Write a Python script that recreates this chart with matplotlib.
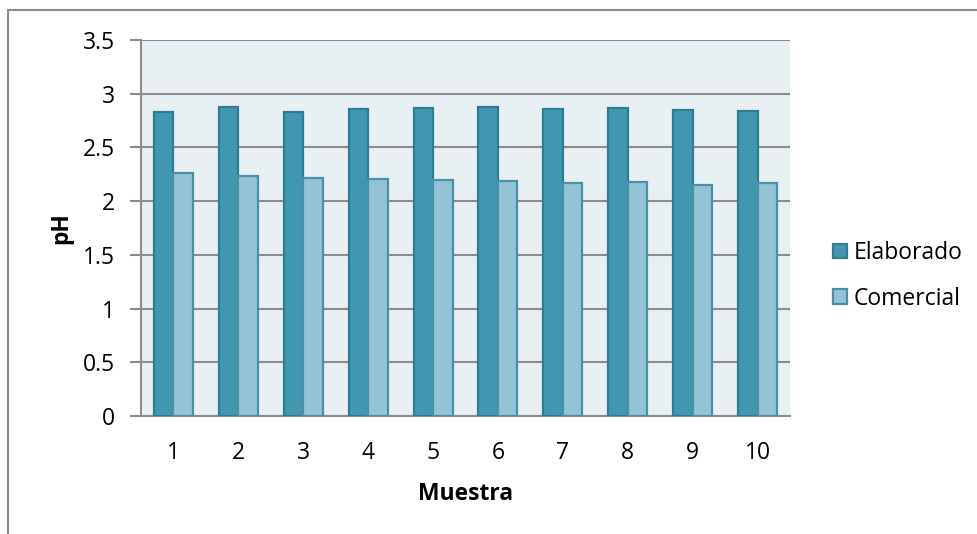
import matplotlib
matplotlib.use("Agg")
import matplotlib.pyplot as plt
import numpy as np
from matplotlib.lines import Line2D

plt.rcParams['font.family'] = ['Open Sans', 'DejaVu Sans']

categories = ['1', '2', '3', '4', '5', '6', '7', '8', '9', '10']
elaborado = [2.83, 2.88, 2.83, 2.86, 2.87, 2.88, 2.86, 2.87, 2.85, 2.84]
comercial = [2.26, 2.23, 2.22, 2.21, 2.20, 2.19, 2.17, 2.18, 2.15, 2.17]
yticks = [0, 0.5, 1, 1.5, 2, 2.5, 3, 3.5]
ytick_labels = ['0', '0.5', '1', '1.5', '2', '2.5', '3', '3.5']

fig = plt.figure(figsize=(9.78, 5.34), dpi=100)
ax = fig.add_axes([141/978, 1-416/534, 649/978, 376/534])
ax.set_facecolor('#E8F0F4')

x = np.arange(len(categories))
w = 0.3
ax.bar(x - w/2, elaborado, w, color='#4197AF', edgecolor='#2F7D94', linewidth=1.6,
       label='Elaborado', zorder=3)
ax.bar(x + w/2, comercial, w, color='#93C3D5', edgecolor='#4A90A6', linewidth=1.6,
       label='Comercial', zorder=3)

ax.set_xlim(-0.5, len(categories) - 0.5)
ax.set_ylim(0, 3.5)
ax.set_yticks(yticks)
ax.set_yticklabels(ytick_labels)
ax.set_xticks(x)
ax.set_xticklabels(categories)
ax.yaxis.grid(True, color='#8C8C8C', linewidth=1.5, zorder=1)
ax.set_axisbelow(True)

for s in ['top', 'right']:
    ax.spines[s].set_visible(False)
ax.spines['left'].set_color('#8C8C8C')
ax.spines['left'].set_linewidth(1.5)
ax.spines['bottom'].set_color('#8C8C8C')
ax.spines['bottom'].set_linewidth(1.5)

ax.tick_params(axis='y', length=8, width=1.5, color='#8C8C8C', labelsize=16.5, pad=11)
ax.tick_params(axis='x', length=0, labelsize=16.5, pad=18)

ax.set_ylabel('pH', fontsize=16.5, fontweight='bold', labelpad=7)
ax.set_xlabel('Muestra', fontsize=16.5, fontweight='bold', labelpad=12)

leg = fig.legend(loc='center left', bbox_to_anchor=(833/978, 1-276/534), frameon=False,
                 fontsize=16.5, handlelength=0.62, handleheight=0.62, handletextpad=0.3,
                 labelspacing=0.95, borderaxespad=0, borderpad=0)

# outer chart frame
fig.add_artist(Line2D([8/978, 8/978], [0, 1-10/534], color='#8C8C8C', linewidth=1.5,
                      transform=fig.transFigure))
fig.add_artist(Line2D([8/978, 1], [1-10/534, 1-10/534], color='#8C8C8C', linewidth=1.5,
                      transform=fig.transFigure))

fig.savefig('out.png', dpi=100)
